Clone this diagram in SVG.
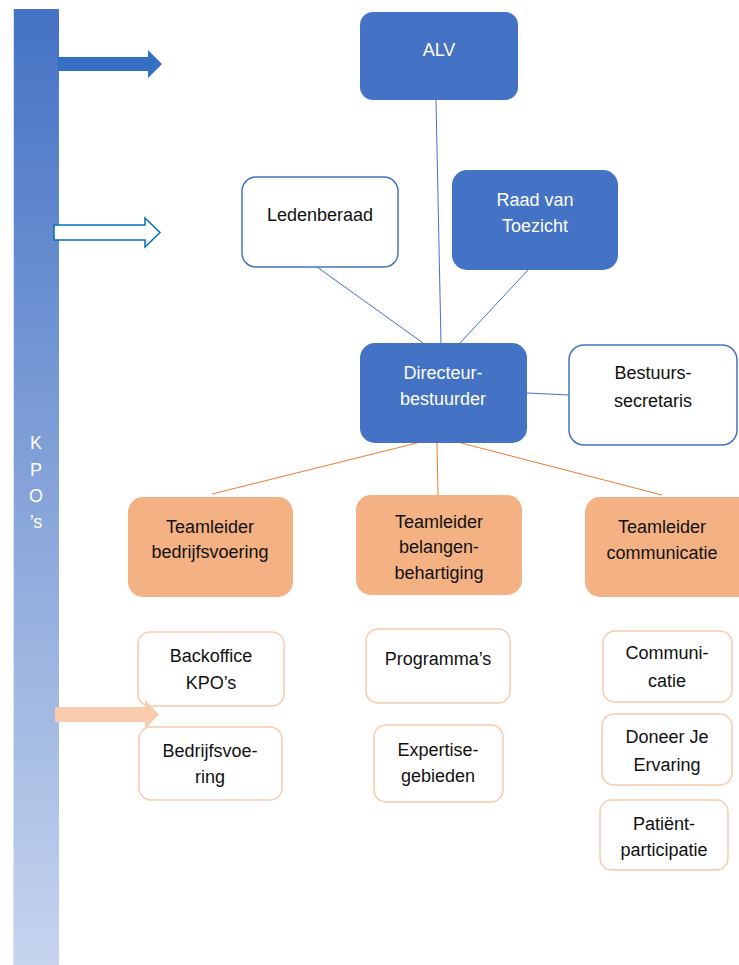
<svg xmlns="http://www.w3.org/2000/svg" width="739" height="965" viewBox="0 0 739 965">
<style>
text{font-family:"Liberation Sans",Arial,sans-serif;font-size:18px;text-anchor:middle}
.w{fill:#ffffff}
.k{fill:#111111}
.blue{fill:#4472C4}
.bout{fill:#ffffff;stroke:#4472C4;stroke-width:1.5}
.org{fill:#F4B183}
.sub{fill:#ffffff;stroke:#F8CBAD;stroke-width:1.5}
.lb{stroke:#4472C4;stroke-width:1;fill:none}
.lo{stroke:#ED7D31;stroke-width:1;fill:none}
</style>
<defs>
<linearGradient id="bar" x1="0" y1="0" x2="0" y2="1">
<stop offset="0" stop-color="#4472C4"/>
<stop offset="1" stop-color="#C6D4EE"/>
</linearGradient>
</defs>
<rect width="739" height="965" fill="#ffffff"/>
<g id="sidebar">
<rect x="13" y="9" width="46" height="956" fill="url(#bar)"/>
<line x1="13.5" y1="9" x2="13.5" y2="965" stroke="#DCE4F4" stroke-width="1"/>
<text class="w" x="36" y="449">K</text>
<text class="w" x="36" y="476">P</text>
<text class="w" x="36" y="502">O</text>
<text class="w" x="36" y="528">’s</text>
</g>
<g id="arrow-top">
<polygon points="58,57 148,57 148,50 162,64 148,78 148,71 58,71" fill="#3470C4"/>
</g>
<g id="arrow-mid">
<polygon points="54,225 145,225 145,218 160,232.5 145,247 145,240 54,240" fill="#ffffff" stroke="#0070C0" stroke-width="1.5"/>
</g>
<g id="connectors">
<line class="lb" x1="436" y1="100" x2="441" y2="343"/>
<line class="lb" x1="317" y1="267" x2="423" y2="343"/>
<line class="lb" x1="528" y1="270" x2="460" y2="343"/>
<line class="lb" x1="527" y1="393" x2="569" y2="395"/>
<line class="lo" x1="417" y1="443" x2="212" y2="494"/>
<line class="lo" x1="437" y1="443" x2="438" y2="495"/>
<line class="lo" x1="461" y1="443" x2="662" y2="495"/>
</g>
<g id="alv">
<rect class="blue" x="360" y="12" width="158" height="88" rx="13"/>
<text class="w" x="439" y="56">ALV</text>
</g>
<g id="ledenberaad">
<rect class="bout" x="242" y="177" width="156" height="90" rx="14"/>
<text class="k" x="320" y="221">Ledenberaad</text>
</g>
<g id="raad">
<rect class="blue" x="452" y="170" width="166" height="100" rx="15"/>
<text class="w" x="535" y="206">Raad van</text>
<text class="w" x="535" y="232">Toezicht</text>
</g>
<g id="directeur">
<rect class="blue" x="360" y="343" width="167" height="100" rx="15"/>
<text class="w" x="443" y="379">Directeur-</text>
<text class="w" x="443" y="405">bestuurder</text>
</g>
<g id="secretaris">
<rect class="bout" x="569" y="345" width="168" height="100" rx="15"/>
<text class="k" x="653" y="379">Bestuurs-</text>
<text class="k" x="653" y="407">secretaris</text>
</g>
<g id="tl-bedrijfsvoering">
<rect class="org" x="128" y="497" width="165" height="100" rx="15"/>
<text class="k" x="210" y="533">Teamleider</text>
<text class="k" x="210" y="558">bedrijfsvoering</text>
</g>
<g id="tl-belangen">
<rect class="org" x="356" y="495" width="166" height="100" rx="15"/>
<text class="k" x="439" y="528">Teamleider</text>
<text class="k" x="439" y="553">belangen-</text>
<text class="k" x="439" y="579">behartiging</text>
</g>
<g id="tl-communicatie">
<rect class="org" x="585" y="497" width="170" height="100" rx="15"/>
<text class="k" x="662" y="533">Teamleider</text>
<text class="k" x="662" y="559">communicatie</text>
</g>
<g id="backoffice">
<rect class="sub" x="138" y="632" width="146" height="74" rx="12"/>
<text class="k" x="211" y="662">Backoffice</text>
<text class="k" x="211" y="689">KPO’s</text>
</g>
<g id="bedrijfsvoering">
<rect class="sub" x="139" y="727" width="143" height="73" rx="12"/>
<text class="k" x="210" y="757">Bedrijfsvoe-</text>
<text class="k" x="210" y="783">ring</text>
</g>
<g id="programmas">
<rect class="sub" x="366" y="629" width="144" height="74" rx="12"/>
<text class="k" x="438" y="665">Programma’s</text>
</g>
<g id="expertise">
<rect class="sub" x="374" y="725" width="129" height="77" rx="12"/>
<text class="k" x="438" y="756">Expertise-</text>
<text class="k" x="438" y="782">gebieden</text>
</g>
<g id="communicatie">
<rect class="sub" x="603" y="631" width="129" height="71" rx="12"/>
<text class="k" x="667" y="659">Communi-</text>
<text class="k" x="667" y="687">catie</text>
</g>
<g id="doneer">
<rect class="sub" x="602" y="714" width="130" height="71" rx="12"/>
<text class="k" x="667" y="743">Doneer Je</text>
<text class="k" x="667" y="771">Ervaring</text>
</g>
<g id="patient">
<rect class="sub" x="600" y="800" width="128" height="70" rx="12"/>
<text class="k" x="664" y="830">Patiënt-</text>
<text class="k" x="664" y="856">participatie</text>
</g>
<g id="arrow-bottom">
<polygon points="55,707 145,707 145,700 159,714.5 145,729 145,722 55,722" fill="#F8CBAD"/>
</g>
</svg>
